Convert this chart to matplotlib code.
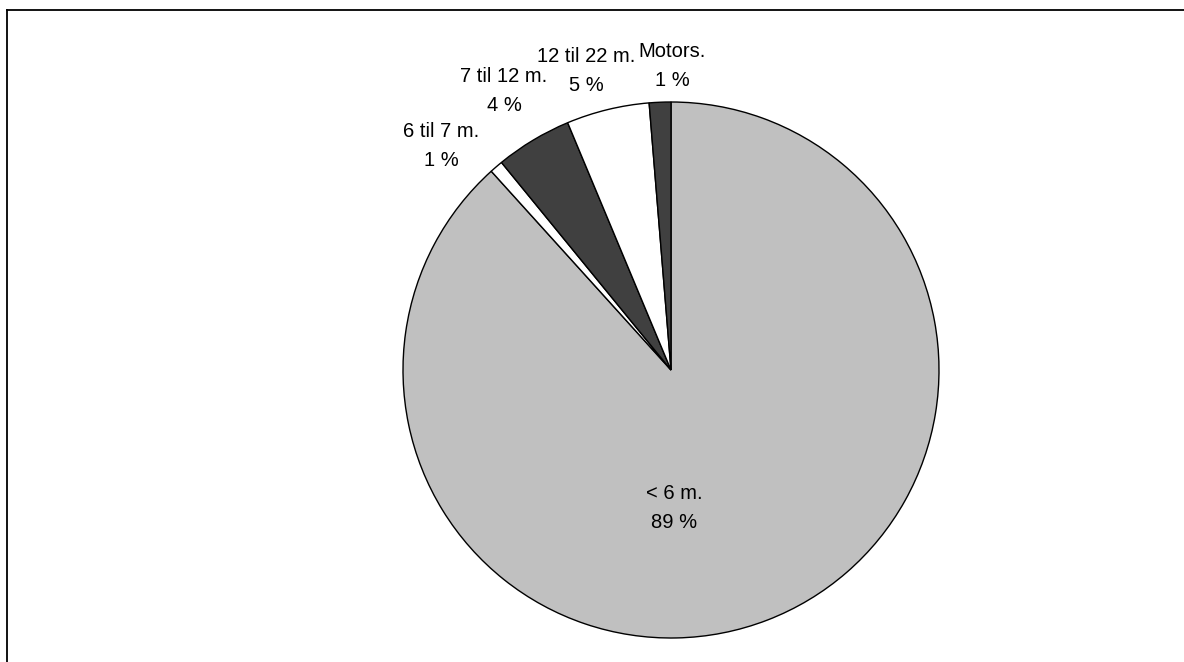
import matplotlib
matplotlib.use("Agg")
import matplotlib.pyplot as plt
from matplotlib.lines import Line2D

# Data (share of boats by length class)
categories = ["< 6 m.", "6 til 7 m.", "7 til 12 m.", "12 til 22 m.", "Motors."]
shares = [88.3, 0.8, 4.6, 5.0, 1.3]
pct_labels = ["89 %", "1 %", "4 %", "5 %", "1 %"]

colors = ["#C0C0C0", "#FFFFFF", "#404040", "#FFFFFF", "#404040"]
# label centres in pie-radius units
label_pos = [(0.011, -0.515), (-0.858, 0.836), (-0.623, 1.041),
             (-0.317, 1.116), (0.004, 1.134)]

plt.rcParams["font.family"] = ["Liberation Sans", "DejaVu Sans"]

fig = plt.figure(figsize=(11.84, 6.62), dpi=100)
ax = fig.add_axes([403 / 1184, 24 / 662, 536 / 1184, 536 / 662])

ax.pie(shares, colors=colors, startangle=90, counterclock=False,
       wedgeprops=dict(edgecolor="black", linewidth=1.0))
ax.set_xlim(-1, 1)
ax.set_ylim(-1, 1)
ax.set_aspect("equal")
ax.axis("off")

for cat, pct, (x, y) in zip(categories, pct_labels, label_pos):
    ax.text(x, y, f"{cat}\n{pct}", ha="center", va="center",
            fontsize=14.5, linespacing=1.7)

# outer frame (cut off at right and bottom)
x0 = 7 / 1184
y1 = 1 - 10 / 662
fig.add_artist(Line2D([x0, x0], [0, y1], color="black", lw=1.3,
                      transform=fig.transFigure))
fig.add_artist(Line2D([x0, 1], [y1, y1], color="black", lw=1.3,
                      transform=fig.transFigure))

fig.savefig("out.png", dpi=100, facecolor="white")
